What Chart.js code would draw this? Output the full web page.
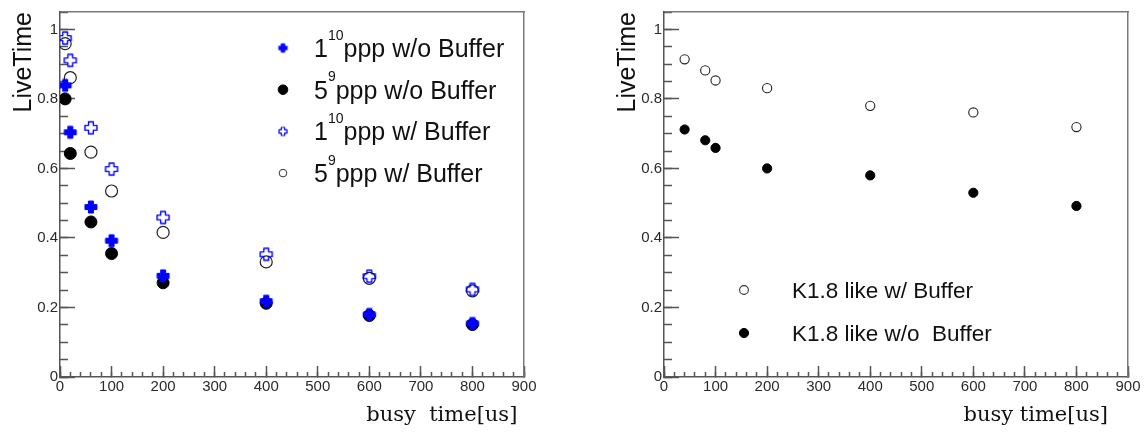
<!DOCTYPE html>
<html><head><meta charset="utf-8">
<script src="https://cdn.jsdelivr.net/npm/chart.js@4.4.1/dist/chart.umd.min.js"></script>
<style>
html,body{margin:0;padding:0;background:#fff;width:1147px;height:432px;overflow:hidden;}
canvas{position:absolute;top:0;}
#cl{left:0;} #cr{left:604px;}
</style></head><body>
<canvas id="cl" width="560" height="432"></canvas>
<canvas id="cr" width="543" height="432"></canvas>
<script>
// ---------------- data ----------------
const busyTimeLeft  = [10, 20, 60, 100, 200, 400, 600, 800];
const lt1e10NoBuf   = [0.839, 0.704, 0.489, 0.392, 0.291, 0.218, 0.180, 0.154];
const lt5e9NoBuf    = [0.800, 0.643, 0.446, 0.355, 0.271, 0.212, 0.177, 0.151];
const lt1e10Buf     = [0.975, 0.911, 0.717, 0.598, 0.459, 0.353, 0.290, 0.252];
const lt5e9Buf      = [0.959, 0.861, 0.647, 0.535, 0.416, 0.331, 0.284, 0.248];

const busyTimeRight = [40, 80, 100, 200, 400, 600, 800];
const k18Buf        = [0.914, 0.882, 0.853, 0.831, 0.780, 0.761, 0.719];
const k18NoBuf      = [0.712, 0.681, 0.659, 0.600, 0.580, 0.530, 0.492];

const seriesNamesLeft  = ['1^{10}ppp w/o Buffer', '5^{9}ppp w/o Buffer', '1^{10}ppp w/ Buffer', '5^{9}ppp w/ Buffer'];
const seriesNamesRight = ['K1.8 like w/ Buffer', 'K1.8 like w/o  Buffer'];

const xTickValues = [0, 100, 200, 300, 400, 500, 600, 700, 800, 900];
const xTickLabels = ['0', '100', '200', '300', '400', '500', '600', '700', '800', '900'];
const yTickValues = [0, 0.2, 0.4, 0.6, 0.8, 1.0];
const yTickLabels = ['0', '0.2', '0.4', '0.6', '0.8', '1'];
const xMinorStep = 20, yMinorStep = 0.05;
const xRange = [0, 900], yRange = [0, 1.05];
const yTitle = 'LiveTime';
const xTitleLeft = 'busy  time[us]';
const xTitleRight = 'busy time[us]';

// ---------------- styling helpers ----------------
const AX = '#555', FR = '#7a7a7a', LBL = '#2a2a2a';
const SANS = '"Liberation Sans", Arial, Helvetica, sans-serif';
const SUP = {'0':'⁰','1':'¹','2':'²','3':'³','4':'⁴','5':'⁵','6':'⁶','7':'⁷','8':'⁸','9':'⁹'};
const plainLabel = s => s.replace(/\^\{([^}]*)\}/g, (m, g) => g.split('').map(c => SUP[c] || c).join(''));
const pts = (xs, ys) => xs.map((x, i) => ({x, y: ys[i]}));

function makeCross(size, armFrac, fill, stroke, lw) {
  const pad = Math.ceil(lw) + 1;
  const S = Math.round(size + pad * 2);
  const c = document.createElement('canvas');
  c.width = S; c.height = S;
  const g = c.getContext('2d');
  const h = size / 2, a = size * armFrac / 2, m = S / 2;
  g.beginPath();
  g.moveTo(m - a, m - h); g.lineTo(m + a, m - h); g.lineTo(m + a, m - a);
  g.lineTo(m + h, m - a); g.lineTo(m + h, m + a); g.lineTo(m + a, m + a);
  g.lineTo(m + a, m + h); g.lineTo(m - a, m + h); g.lineTo(m - a, m + a);
  g.lineTo(m - h, m + a); g.lineTo(m - h, m - a); g.lineTo(m - a, m - a);
  g.closePath();
  g.lineJoin = 'round';
  if (fill) { g.fillStyle = fill; g.fill(); }
  if (stroke) { g.strokeStyle = stroke; g.lineWidth = lw; g.stroke(); }
  return c;
}
const crossFull  = makeCross(12, 0.42, '#0000ff', '#0000ff', 1);
const crossOpen  = makeCross(12, 0.40, null, '#0000ff', 1.4);
const crossFullL = makeCross(8.5, 0.42, '#0000ff', '#0000ff', 0.8);
const crossOpenL = makeCross(8, 0.42, null, '#0000ff', 1.2);

function scalesFor(xTitle) {
  return {
    x: {
      type: 'linear', position: 'bottom', weight: 1, min: xRange[0], max: xRange[1],
      afterBuildTicks: s => { s.ticks = xTickValues.map(v => ({value: v})); },
      afterFit: s => { s.height = 55; s.paddingLeft = 8; s.paddingRight = 12; },
      ticks: { callback: (v, i) => xTickLabels[i], padding: 12, maxRotation: 0, autoSkip: false,
               color: LBL, font: {family: SANS, size: 15} },
      grid: { drawOnChartArea: false, tickLength: -11, tickColor: AX, tickWidth: 1.5 },
      border: { color: AX, width: 1.5 },
      title: { display: true, text: xTitle, align: 'end', color: '#111',
               font: {family: '"DejaVu Serif", serif', size: 21}, padding: {top: 0, bottom: 3.5} }
    },
    xMinor: {
      type: 'linear', position: 'bottom', weight: 0, min: xRange[0], max: xRange[1],
      afterFit: s => { s.height = 0; },
      ticks: { display: false, stepSize: xMinorStep },
      grid: { drawOnChartArea: false, tickLength: -5, tickColor: AX, tickWidth: 1.5 },
      border: { display: false }
    },
    xTop: {
      type: 'linear', position: 'top', min: xRange[0], max: xRange[1],
      afterFit: s => { s.height = 0; },
      ticks: { display: false },
      grid: { drawOnChartArea: false, drawTicks: false },
      border: { color: FR, width: 1.5 }
    },
    y: {
      type: 'linear', position: 'left', weight: 1, min: yRange[0], max: yRange[1],
      afterBuildTicks: s => { s.ticks = yTickValues.map(v => ({value: v})); },
      afterFit: s => { s.width = 60; s.paddingTop = 8; s.paddingBottom = 8; },
      ticks: { callback: (v, i) => yTickLabels[i], padding: 17, color: LBL, font: {family: SANS, size: 15} },
      grid: { drawOnChartArea: false, tickLength: -15, tickColor: AX, tickWidth: 1.5 },
      border: { color: AX, width: 1.5 },
      title: { display: true, text: yTitle, align: 'end', color: '#111',
               font: {family: SANS, size: 25}, padding: {top: 9, bottom: 0} }
    },
    yMinor: {
      type: 'linear', position: 'left', weight: 0, min: yRange[0], max: yRange[1],
      afterFit: s => { s.width = 0; },
      ticks: { display: false, stepSize: yMinorStep },
      grid: { drawOnChartArea: false, tickLength: -8, tickColor: AX, tickWidth: 1.5 },
      border: { display: false }
    },
    yRight: {
      type: 'linear', position: 'right', min: yRange[0], max: yRange[1],
      afterFit: s => { s.width = 0; },
      ticks: { display: false },
      grid: { drawOnChartArea: false, drawTicks: false },
      border: { color: FR, width: 1.5 }
    }
  };
}

function drawRich(ctx, text, x, yc, size, color) {
  const parts = text.split(/\^\{([^}]*)\}/);
  const cap = 0.716 * size;
  const base = yc + cap / 2;
  const supSize = Math.round(size * 0.56);
  ctx.fillStyle = color; ctx.textBaseline = 'alphabetic'; ctx.textAlign = 'left';
  let cx = x;
  parts.forEach((p, i) => {
    if (!p) return;
    const sup = i % 2 === 1;
    ctx.font = (sup ? supSize : size) + 'px ' + SANS;
    ctx.fillText(p, cx, sup ? base - cap * 0.97 : base);
    cx += ctx.measureText(p).width;
  });
}

function legendPlugin(entries, lay) {
  return {
    id: 'rootLegend',
    afterDatasetsDraw(chart) {
      const ctx = chart.ctx;
      ctx.save();
      entries.forEach((e, i) => {
        const y = lay.y0 + i * lay.dy;
        if (e.img) {
          ctx.drawImage(e.img, lay.mx - e.img.width / 2, y - e.img.height / 2);
        } else {
          ctx.beginPath();
          ctx.arc(lay.mx, y, e.r, 0, Math.PI * 2);
          if (e.fill) { ctx.fillStyle = e.fill; ctx.fill(); }
          ctx.lineWidth = e.lw; ctx.strokeStyle = e.stroke; ctx.stroke();
        }
        drawRich(ctx, e.text, lay.tx, y, lay.size, '#111');
      });
      ctx.restore();
    }
  };
}

const baseOpts = (xTitle, padRight) => ({
  responsive: false, animation: false, events: [],
  layout: { padding: { top: 12, right: padRight, left: 0, bottom: 0 } },
  plugins: { legend: { display: false }, tooltip: { enabled: false } },
  scales: scalesFor(xTitle)
});

// ---------------- left chart ----------------
new Chart(document.getElementById('cl'), {
  type: 'scatter',
  data: { datasets: [
    { label: plainLabel(seriesNamesLeft[0]), data: pts(busyTimeLeft, lt1e10NoBuf), pointStyle: crossFull, pointRadius: 6 },
    { label: plainLabel(seriesNamesLeft[1]), data: pts(busyTimeLeft, lt5e9NoBuf), pointStyle: 'circle', pointRadius: 6,
      backgroundColor: '#000', borderColor: '#000', borderWidth: 1 },
    { label: plainLabel(seriesNamesLeft[2]), data: pts(busyTimeLeft, lt1e10Buf), pointStyle: crossOpen, pointRadius: 6 },
    { label: plainLabel(seriesNamesLeft[3]), data: pts(busyTimeLeft, lt5e9Buf), pointStyle: 'circle', pointRadius: 6,
      backgroundColor: 'rgba(0,0,0,0)', borderColor: '#222', borderWidth: 1.2 }
  ]},
  options: baseOpts(xTitleLeft + ' ', 36),
  plugins: [legendPlugin([
    { text: seriesNamesLeft[0], img: crossFullL },
    { text: seriesNamesLeft[1], r: 4.8, fill: '#000', stroke: '#000', lw: 1 },
    { text: seriesNamesLeft[2], img: crossOpenL },
    { text: seriesNamesLeft[3], r: 3.8, fill: null, stroke: '#333', lw: 1 }
  ], { mx: 283, tx: 314, y0: 48, dy: 41.7, size: 25 })]
});

// ---------------- right chart ----------------
new Chart(document.getElementById('cr'), {
  type: 'scatter',
  data: { datasets: [
    { label: seriesNamesRight[0], data: pts(busyTimeRight, k18Buf), pointStyle: 'circle', pointRadius: 4.6,
      backgroundColor: 'rgba(0,0,0,0)', borderColor: '#222', borderWidth: 1.1 },
    { label: seriesNamesRight[1], data: pts(busyTimeRight, k18NoBuf), pointStyle: 'circle', pointRadius: 4.6,
      backgroundColor: '#000', borderColor: '#000', borderWidth: 1 }
  ]},
  options: baseOpts(xTitleRight + '   ', 19),
  plugins: [legendPlugin([
    { text: seriesNamesRight[0], r: 4.4, fill: null, stroke: '#333', lw: 1.1 },
    { text: seriesNamesRight[1], r: 4.6, fill: '#000', stroke: '#000', lw: 1 }
  ], { mx: 140, tx: 188, y0: 290, dy: 43, size: 22.5 })]
});
</script>
</body></html>
